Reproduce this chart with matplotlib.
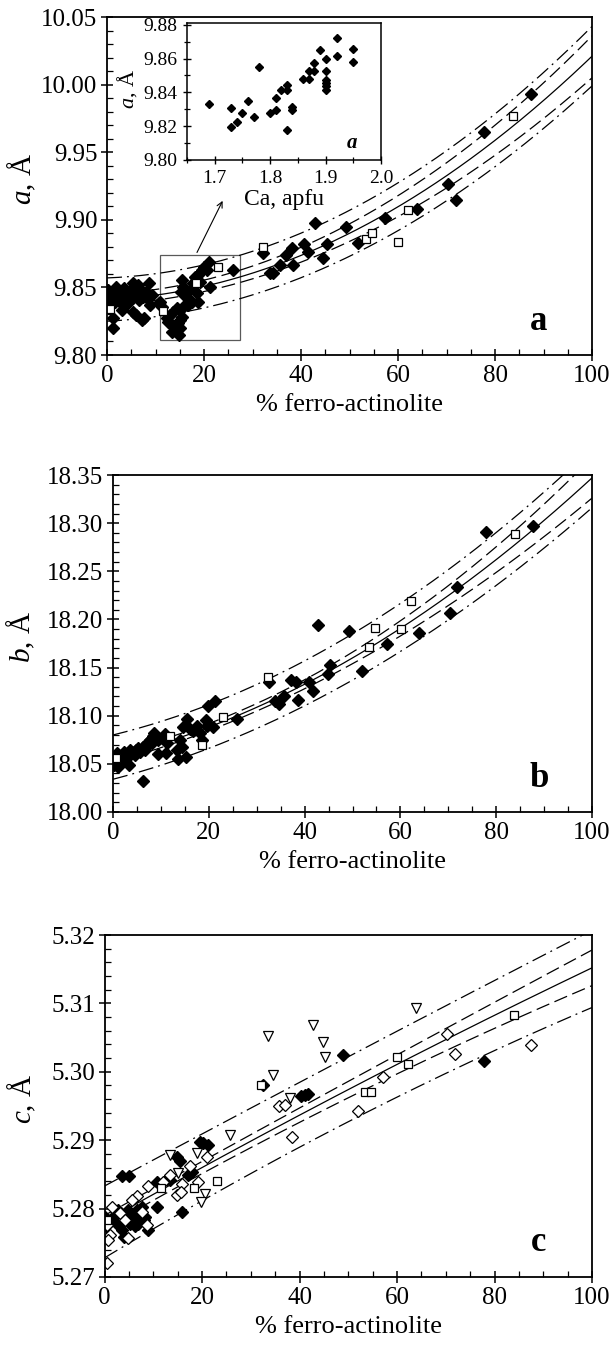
import numpy as np
import matplotlib
matplotlib.use("Agg")
import matplotlib.pyplot as plt
from matplotlib.ticker import MultipleLocator, FormatStrFormatter

plt.rcParams['font.family'] = ['Liberation Serif', 'DejaVu Serif']
plt.rcParams['mathtext.fontset'] = 'custom'
plt.rcParams['mathtext.it'] = 'Liberation Serif:italic'
plt.rcParams['mathtext.rm'] = 'Liberation Serif'
plt.rcParams['mathtext.bf'] = 'Liberation Serif:bold:italic'

# ---- panel a: cell parameter a vs % ferro-actinolite
a_dia_x = [0.0, 0.1, 0.3, 0.5, 0.8, 1.2, 1.2, 1.3, 1.7, 2.0, 2.3, 2.7, 3.0, 3.2, 3.5, 3.9, 4.2,
           4.6, 4.9, 5.3, 5.4, 5.8, 6.0, 6.3, 6.7, 7.0, 7.2, 7.5, 7.6, 8.0, 8.7, 8.9, 9.2, 10.8,
           0.6, 2.8, 4.4, 6.5, 8.2, 1.9, 5.4,
           15.4, 15.7, 15.2, 16.1, 16.4, 17.1, 17.8, 18.1, 18.8, 19.5, 19.9, 20.6, 21.1, 21.2,
           19.2, 18.5, 18.8, 17.5, 16.6, 15.7, 15.1, 14.4, 13.7, 13.0, 12.3, 12.6, 13.3, 14.0,
           14.7, 15.1, 15.4, 13.3, 14.9, 15.1, 10.9, 11.3, 25.9,
           32.2, 33.6, 34.3, 35.7, 37.0, 38.1, 38.4, 40.7, 41.5, 42.9, 44.6, 45.3, 49.3, 51.8,
           57.3, 63.9, 70.4, 71.9, 77.7, 87.4]
a_dia_y = [9.8457, 9.8407, 9.8481, 9.8370, 9.8432, 9.8272, 9.8198, 9.8469, 9.8395, 9.8444,
           9.8481, 9.8420, 9.8333, 9.8457, 9.8494, 9.8432, 9.8469, 9.8407, 9.8481, 9.8444,
           9.8321, 9.8494, 9.8296, 9.8519, 9.8457, 9.8481, 9.8259, 9.8432, 9.8272, 9.8469,
           9.8536, 9.8370, 9.8444, 9.8383,
           9.8407, 9.8383, 9.8383, 9.8407, 9.8420, 9.8506, 9.8531,
           9.8556, 9.8506, 9.8469, 9.8444, 9.8420, 9.8481, 9.8531, 9.8580, 9.8593, 9.8630,
           9.8654, 9.8630, 9.8691, 9.8506, 9.8543, 9.8457, 9.8395, 9.8395, 9.8370, 9.8358,
           9.8333, 9.8346, 9.8321, 9.8296, 9.8272, 9.8247, 9.8222, 9.8198, 9.8235, 9.8259,
           9.8284, 9.8173, 9.8148, 9.8198, 9.8395, 9.8358, 9.8630,
           9.8753, 9.8605, 9.8605, 9.8667, 9.8741, 9.8790, 9.8667, 9.8822, 9.8765, 9.8980,
           9.8716, 9.8822, 9.8946, 9.8832, 9.9012, 9.9079, 9.9267, 9.9148, 9.9647, 9.9933]
a_sq_x = [0.6, 11.6, 18.3, 22.8, 32.1, 53.4, 54.6, 59.9, 62.1, 83.8]
a_sq_y = [9.8338, 9.8326, 9.8536, 9.8650, 9.8802, 9.8857, 9.8906, 9.8835, 9.9074, 9.9770]

# fitted curve and bands read at 0, 50, 100 %
curve_x = [0, 50, 100]
a_curves = {'pred_hi': [9.857, 9.907, 10.043], 'conf_hi': [9.845, 9.897, 10.036],
            'fit': [9.841, 9.890, 10.021],
            'conf_lo': [9.837, 9.884, 10.005], 'pred_lo': [9.825, 9.873, 9.999]}

# inset: a vs Ca
ca_x = [1.69, 1.73, 1.73, 1.74, 1.75, 1.76, 1.77, 1.78, 1.80, 1.81, 1.81, 1.82, 1.83, 1.83,
        1.83, 1.84, 1.84, 1.86, 1.87, 1.87, 1.88, 1.88, 1.89, 1.90, 1.90, 1.90, 1.90, 1.90,
        1.90, 1.92, 1.92, 1.95, 1.95]
ca_a = [9.833, 9.8306, 9.8193, 9.8225, 9.8276, 9.8348, 9.8257, 9.8547, 9.8276, 9.8296,
        9.8365, 9.8415, 9.8415, 9.8444, 9.8178, 9.8316, 9.8296, 9.8478, 9.8478, 9.8527,
        9.8527, 9.8573, 9.8648, 9.8598, 9.8527, 9.8474, 9.8454, 9.8435, 9.8415, 9.8721,
        9.8612, 9.8658, 9.8581]

# ---- panel b
b_dia_x = [6.3, 3.4, 1.1, 0.2, 9.3, 11.1, 13.6, 15.2, 14.5, 10.9, 15.5, 19.4, 19.9, 21.3, 25.9,
           18.5, 17.5, 16.8, 16.1, 14.7, 20.9, 19.6, 18.2, 13.3, 14.0, 9.3, 8.6, 11.2, 7.7,
           7.0, 6.3, 5.6, 4.9, 4.2, 3.5, 2.9, 2.2, 1.5, 0.8, 0.4, 1.8, 3.2, 4.6, 5.3, 6.7, 7.4,
           8.1, 8.4, 32.6, 33.8, 34.7, 35.7, 37.1, 38.3, 38.7, 41.0, 41.8, 42.9, 44.9, 45.4,
           49.3, 51.9, 57.3, 63.9, 70.4, 71.9, 77.9, 87.6]
b_dia_y = [18.0323, 18.0483, 18.0472, 18.0490, 18.0600, 18.0611, 18.0552, 18.0576, 18.0680,
           18.0813, 18.0965, 18.0958, 18.1097, 18.1149, 18.0965, 18.0750, 18.0889, 18.0837,
           18.0861, 18.0882, 18.0882, 18.0896, 18.0820, 18.0646, 18.0750, 18.0750, 18.0820,
           18.0715, 18.0750, 18.0715, 18.0680, 18.0628, 18.0646, 18.0611, 18.0646, 18.0594,
           18.0628, 18.0576, 18.0611, 18.0542, 18.0542, 18.0576, 18.0594, 18.0663, 18.0646,
           18.0698, 18.0715, 18.0785, 18.1347, 18.1149, 18.1120, 18.1208, 18.1368, 18.1354,
           18.1167, 18.1350, 18.1260, 18.1941, 18.1437, 18.1524, 18.1877, 18.1460, 18.1740,
           18.1860, 18.2070, 18.2336, 18.2910, 18.2972]
b_sq_x = [0.6, 11.8, 18.5, 23.0, 32.3, 53.5, 54.7, 60.1, 62.2, 83.9]
b_sq_y = [18.0559, 18.0785, 18.0698, 18.0986, 18.1400, 18.1715, 18.1906, 18.1896, 18.2190,
          18.2885]
b_curves = {'pred_hi': [18.080, 18.185, 18.378], 'conf_hi': [18.062, 18.166, 18.368],
            'fit': [18.057, 18.160, 18.347],
            'conf_lo': [18.052, 18.154, 18.326], 'pred_lo': [18.034, 18.137, 18.316]}

# ---- panel c
c_dia_x = [0.1, 0.4, 1.8, 2.5, 3.5, 3.9, 4.5, 5.2, 5.9, 6.3, 6.9, 7.3, 8.0, 8.3, 9.0, 0.0, 2.8,
           4.9, 6.6, 7.6, 3.5, 5.1, 10.7, 10.7, 15.8, 19.6, 21.3, 14.8, 15.5, 12.8, 13.4, 17.2,
           17.9, 20.3, 49.0, 40.4, 41.1, 41.7, 77.8, 32.5]
c_dia_y = [5.2783, 5.2774, 5.2788, 5.2778, 5.2769, 5.2759, 5.2783, 5.2778, 5.2788, 5.2774,
           5.2778, 5.2793, 5.2783, 5.2788, 5.2769, 5.2788, 5.2798, 5.2798, 5.2798, 5.2803,
           5.2847, 5.2847, 5.2839, 5.2803, 5.2795, 5.2898, 5.2893, 5.2876, 5.2869, 5.2844,
           5.2842, 5.2849, 5.2854, 5.2896, 5.3024, 5.2965, 5.2966, 5.2967, 5.3016, 5.2981]
c_odia_x = [0.6, 9.0, 21.0, 17.5, 19.2, 15.8, 14.8, 15.6, 1.5, 6.6, 5.6, 7.6, 3.2, 4.2, 0.5,
            1.1, 0.8, 4.9, 8.7, 13.4, 12.1, 35.7, 37.1, 38.5, 51.9, 57.2, 70.2, 71.9, 87.5]
c_odia_y = [5.2720, 5.2833, 5.2876, 5.2862, 5.2839, 5.2836, 5.2820, 5.2825, 5.2803, 5.2818,
            5.2813, 5.2795, 5.2793, 5.2783, 5.2776, 5.2761, 5.2754, 5.2757, 5.2776, 5.2849,
            5.2839, 5.2950, 5.2951, 5.2904, 5.2942, 5.2993, 5.3055, 5.3026, 5.3039]
c_sq_x = [0.6, 11.6, 18.4, 23.0, 32.1, 53.4, 54.6, 60.1, 62.2, 83.9]
c_sq_y = [5.2784, 5.2830, 5.2830, 5.2841, 5.2981, 5.2971, 5.2971, 5.3022, 5.3012, 5.3083]
c_tri_x = [13.4, 18.9, 25.7, 20.6, 19.8, 15.1, 33.5, 42.7, 44.8, 45.2, 34.5, 38.1, 63.9]
c_tri_y = [5.2879, 5.2882, 5.2908, 5.2822, 5.2810, 5.2852, 5.3052, 5.3069, 5.3043, 5.3022,
           5.2995, 5.2962, 5.3093]
c_curves = {'pred_hi': [5.2833, 5.3022, 5.3207], 'conf_hi': [5.2790, 5.2986, 5.3178],
            'fit': [5.2781, 5.2974, 5.3152],
            'conf_lo': [5.2772, 5.2962, 5.3126], 'pred_lo': [5.2728, 5.2927, 5.3094]}

W, H = 611, 1352
fig = plt.figure(figsize=(W / 100, H / 100), dpi=100)


def px_axes(left, right, top, bottom):
    return fig.add_axes([left / W, 1 - bottom / H, (right - left) / W, (bottom - top) / H])


dash = (11, 4.5)
dashdot = (12, 4, 1.5, 4)
styles = {'pred_hi': dashdot, 'conf_hi': dash, 'fit': None, 'conf_lo': dash, 'pred_lo': dashdot}


def draw_curves(ax, curves):
    xs = np.linspace(0, 100, 300)
    for key, vals in curves.items():
        coef = np.polyfit(curve_x, vals, 2)
        line, = ax.plot(xs, np.polyval(coef, xs), color='black', lw=0.9)
        if styles[key] is not None:
            line.set_dashes(styles[key])


def style_axes(ax, ylim, ymaj, ymin, fmt, letter, ylab, labx):
    ax.set_xlim(0, 100)
    ax.set_ylim(*ylim)
    ax.xaxis.set_major_locator(MultipleLocator(20))
    ax.xaxis.set_minor_locator(MultipleLocator(5))
    ax.yaxis.set_major_locator(MultipleLocator(ymaj))
    ax.yaxis.set_minor_locator(MultipleLocator(ymin))
    ax.yaxis.set_major_formatter(FormatStrFormatter(fmt))
    ax.tick_params(which='major', direction='inout', length=8, width=1.1, labelsize=18, pad=3)
    ax.tick_params(which='minor', direction='in', length=4, width=0.9)
    ax.tick_params(which='both', top=False, right=False)
    for s in ax.spines.values():
        s.set_linewidth(1.3)
    ax.set_xlabel('% ferro-actinolite', fontsize=19, labelpad=5)
    ax.set_ylabel(ylab, fontsize=21)
    ax.yaxis.set_label_coords(labx, 0.52)
    ax.text(0.89, 0.1, letter, transform=ax.transAxes, fontsize=25, fontweight='bold',
            ha='center', va='center')


dia = dict(marker='D', ms=5.8, color='black', ls='none')
sq = dict(marker='s', ms=6, mfc='white', mec='black', mew=0.9, ls='none')

# panel a
ax_a = px_axes(107, 592, 17, 355)
draw_curves(ax_a, a_curves)
ax_a.plot(a_dia_x, a_dia_y, **dia)
ax_a.plot(a_sq_x, a_sq_y, **sq)
style_axes(ax_a, (9.80, 10.05), 0.05, 0.01, '%.2f', 'a', '$a$, Å', -0.142)
ax_a.add_patch(plt.Rectangle((11, 9.811), 16.4, 0.063, fill=False, ec='0.35', lw=0.9))

ins = px_axes(187, 381, 23, 160)
ins.plot(ca_x, ca_a, marker='D', ms=3.8, color='black', ls='none')
ins.set_xlim(1.65, 2.0)
ins.set_ylim(9.80, 9.881)
ins.xaxis.set_major_locator(MultipleLocator(0.1))
ins.xaxis.set_minor_locator(MultipleLocator(0.05))
ins.yaxis.set_major_locator(MultipleLocator(0.02))
ins.yaxis.set_minor_locator(MultipleLocator(0.01))
ins.xaxis.set_major_formatter(FormatStrFormatter('%.1f'))
ins.yaxis.set_major_formatter(FormatStrFormatter('%.2f'))
ins.tick_params(which='major', direction='inout', length=6, width=1, labelsize=14, pad=4)
ins.tick_params(which='minor', direction='inout', length=5, width=0.9)
ins.tick_params(which='both', top=False, right=False)
for s in ins.spines.values():
    s.set_linewidth(1.1)
ins.set_xlabel('Ca, apfu', fontsize=17, labelpad=2)
ins.set_ylabel('$a$, Å', fontsize=16)
ins.yaxis.set_label_coords(-0.245, 0.52)
ins.text(0.85, 0.12, r'$\mathbf{a}$', transform=ins.transAxes, fontsize=15,
         ha='center', va='center')
ax_a.annotate('', xy=(0.19, -0.28), xycoords=ins.transAxes, xytext=(18.3, 9.874),
              textcoords='data', arrowprops=dict(arrowstyle='->', lw=0.8, color='black'))

# panel b
ax_b = px_axes(113, 592, 475, 812)
draw_curves(ax_b, b_curves)
ax_b.plot(b_dia_x, b_dia_y, **dia)
ax_b.plot(b_sq_x, b_sq_y, **sq)
style_axes(ax_b, (18.00, 18.35), 0.05, 0.01, '%.2f', 'b', '$b$, Å', -0.158)

# panel c
ax_c = px_axes(104.5, 592, 935, 1277)
draw_curves(ax_c, c_curves)
ax_c.plot(c_dia_x, c_dia_y, **dia)
ax_c.plot(c_odia_x, c_odia_y, marker='D', ms=5.8, mfc='white', mec='black', mew=0.9, ls='none')
ax_c.plot(c_sq_x, c_sq_y, **sq)
ax_c.plot(c_tri_x, c_tri_y, marker='v', ms=7, mfc='white', mec='black', mew=0.9, ls='none')
style_axes(ax_c, (5.27, 5.32), 0.01, 0.002, '%.2f', 'c', '$c$, Å', -0.137)

fig.savefig('out.png', dpi=100)
